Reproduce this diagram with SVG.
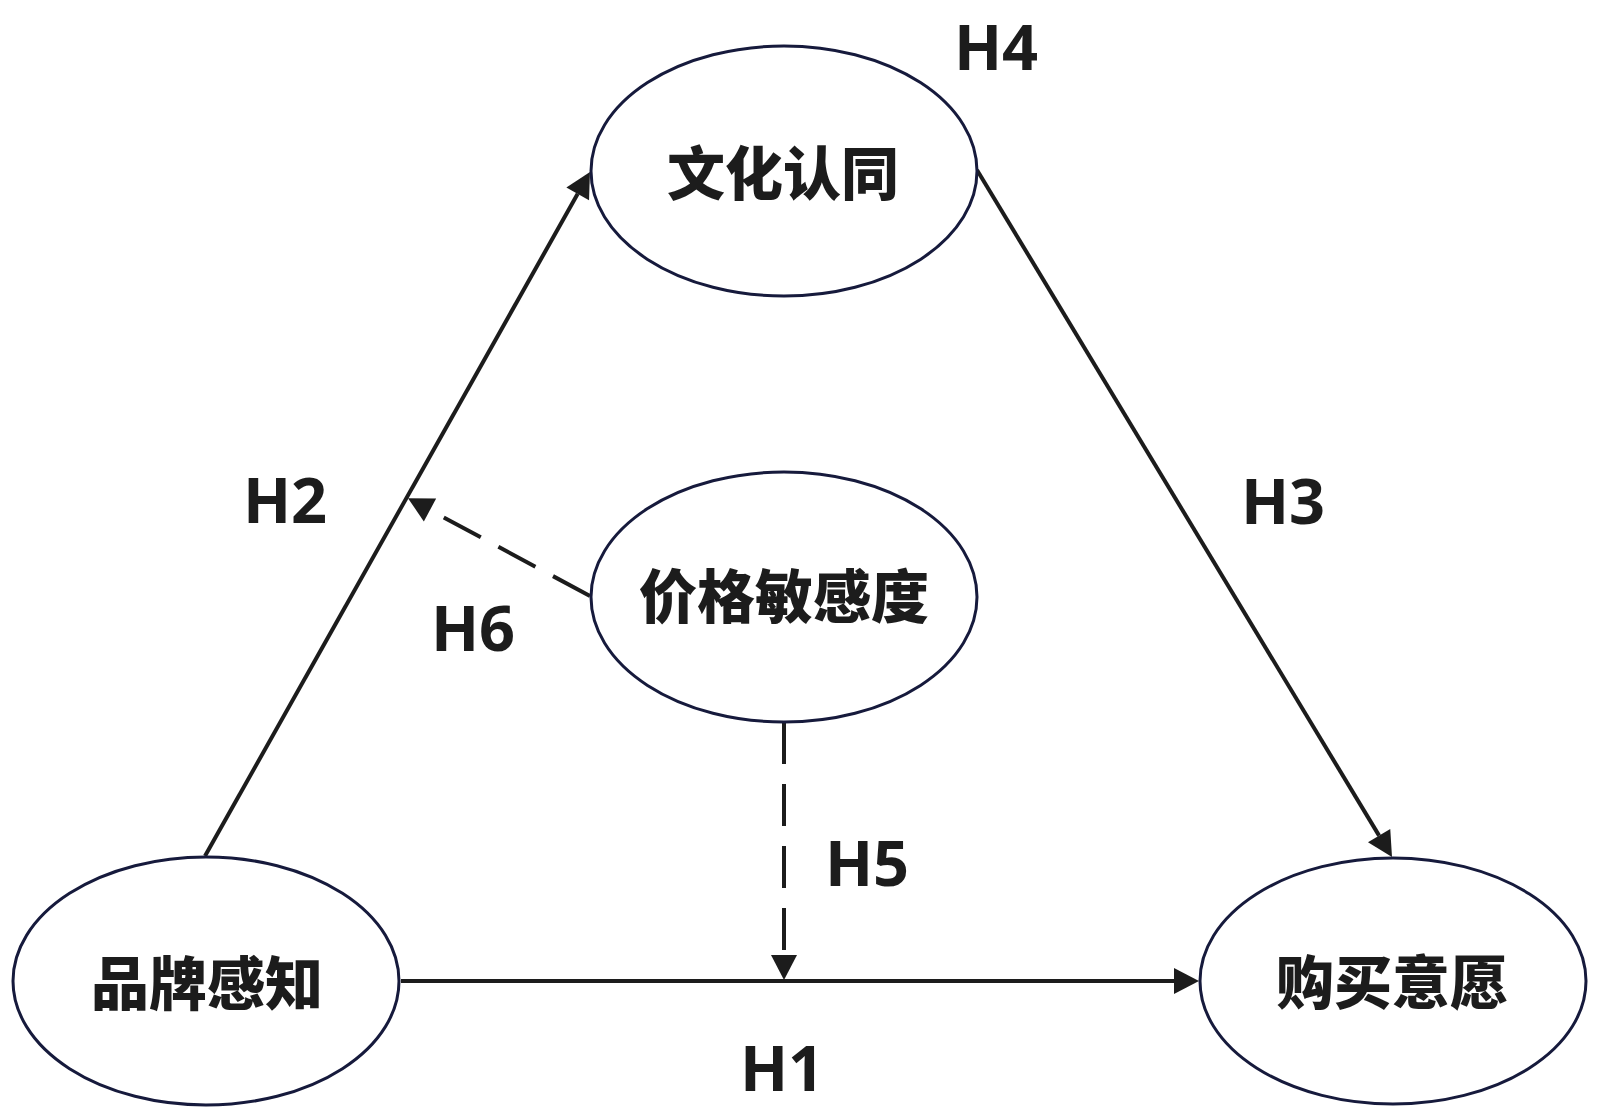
<svg xmlns="http://www.w3.org/2000/svg" width="1600" height="1117" viewBox="0 0 1600 1117">
  <style>
    .node ellipse { fill: #ffffff; stroke: #161a3c; stroke-width: 3; }
    .node text { font-family: "Noto Sans CJK SC", "Noto Sans", sans-serif; font-weight: 900; font-size: 58px; fill: #1c1c1c; text-anchor: middle; }
    .conn { stroke: #1c1c1c; stroke-width: 4; fill: none; }
    .dash { stroke-dasharray: 42 20; }
    .lbl { font-family: "Open Sans", "Noto Sans", "Liberation Sans", sans-serif; font-weight: 700; font-size: 63px; fill: #1c1c1c; text-anchor: middle; }
  </style>
  <defs>
    <marker id="arrow" markerUnits="userSpaceOnUse" markerWidth="26" markerHeight="26" refX="0" refY="13" orient="auto" overflow="visible">
      <path d="M0,0 L25,13 L0,26 z" fill="#1c1c1c"/>
    </marker>
  </defs>
  <rect width="1600" height="1117" fill="#ffffff"/>

  <g id="connectors">
    <line id="c-h1" class="conn" x1="401" y1="981" x2="1174" y2="981" marker-end="url(#arrow)"/>
    <line id="c-h2" class="conn" x1="205" y1="856" x2="577.7" y2="193.8" marker-end="url(#arrow)"/>
    <line id="c-h3" class="conn" x1="977" y1="170" x2="1379.1" y2="835.6" marker-end="url(#arrow)"/>
    <line id="c-h5" class="conn dash" x1="784" y1="722" x2="784" y2="955" marker-end="url(#arrow)"/>
    <line id="c-h6" class="conn dash" x1="590" y1="596" x2="430" y2="510" marker-end="url(#arrow)"/>
  </g>

  <g id="node-culture" class="node">
    <ellipse cx="784" cy="171" rx="193" ry="125"/>
    <text x="783" y="195">文化认同</text>
  </g>
  <g id="node-price" class="node">
    <ellipse cx="784" cy="597" rx="193" ry="125"/>
    <text x="784" y="618">价格敏感度</text>
  </g>
  <g id="node-brand" class="node">
    <ellipse cx="206" cy="981" rx="193" ry="124"/>
    <text x="207" y="1005">品牌感知</text>
  </g>
  <g id="node-intent" class="node">
    <ellipse cx="1393" cy="981" rx="193" ry="123"/>
    <text x="1392" y="1004">购买意愿</text>
  </g>

  <g id="labels">
    <text class="lbl" x="996" y="70">H4</text>
    <text class="lbl" x="285" y="523">H2</text>
    <text class="lbl" x="1283" y="524">H3</text>
    <text class="lbl" x="473" y="651">H6</text>
    <text class="lbl" x="867" y="886">H5</text>
    <text class="lbl" x="782" y="1091">H1</text>
  </g>
</svg>
